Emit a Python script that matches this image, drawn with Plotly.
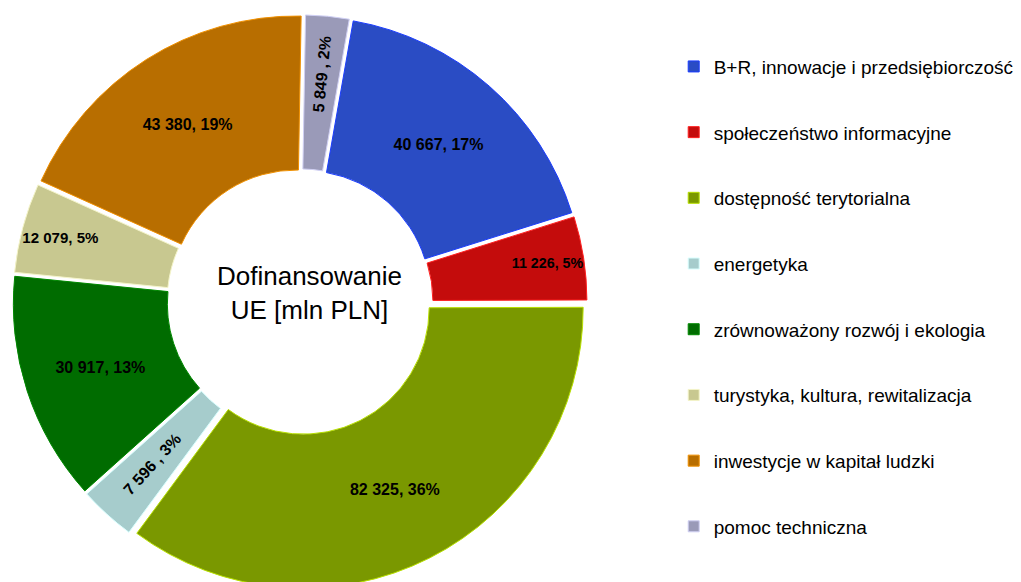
import plotly.graph_objects as go

categories = [
    "B+R, innowacje i przedsiębiorczość",
    "społeczeństwo informacyjne",
    "dostępność terytorialna",
    "energetyka",
    "zrównoważony rozwój i ekologia",
    "turystyka, kultura, rewitalizacja",
    "inwestycje w kapitał ludzki",
    "pomoc techniczna",
]
values = [40667, 11226, 82325, 7596, 30917, 12079, 43380, 5849]
percent_labels = ["17%", "5%", "36%", "3%", "13%", "5%", "19%", "2%"]
value_labels = ["40 667", "11 226", "82 325", "7 596 ", "30 917", "12 079", "43 380", "5 849 "]
# label style group: "h" horizontal in ring, "r" radial, "w" horizontal, wide (narrow slice)
label_style = ["h", "w", "h", "r", "h", "w", "h", "r"]

colors = ["#2a4cc4", "#c40c0c", "#7a9800", "#a6cccc", "#006c00", "#c8c890", "#b86e00", "#9a9ab8"]
edge_colors = ["#1a3cff", "#ff2020", "#b8e000", "#d8ffff", "#008800", "#f4f4c8", "#f09000", "#d0d0f4"]

texts = [f"{v}, {p}" for v, p in zip(value_labels, percent_labels)]


def pick(style):
    return [(t if s == style else "") for t, s in zip(texts, label_style)]


common = dict(
    labels=categories,
    values=values,
    texttemplate="%{text}",
    textposition="inside",
    textfont=dict(family="Liberation Sans, Arial", size=16, color="black", weight="bold"),
    sort=False,
    direction="clockwise",
    rotation=10,
    pull=0.025,
    domain=dict(x=[5/1021, 579/1021], y=[0.0, 0.99]),
    showlegend=False,
)
clear = dict(colors=["rgba(0,0,0,0)"] * len(values), line=dict(width=0))

fig = go.Figure()
fig.add_trace(go.Pie(
    text=pick("h"), hole=0.45,
    insidetextorientation="horizontal",
    marker=dict(colors=colors, line=dict(color=edge_colors, width=1)),
    hoverinfo="label+value",
    **common,
))
fig.add_trace(go.Pie(
    text=pick("r"), hole=0.45,
    insidetextorientation="radial",
    marker=clear, hoverinfo="skip",
    **common,
))
fig.add_trace(go.Pie(
    text=pick("w"), hole=0.3,
    insidetextorientation="horizontal",
    marker=clear, hoverinfo="skip",
    **common,
))

for cat, col, ec in zip(categories, colors, edge_colors):
    fig.add_trace(go.Scatter(
        x=[None], y=[None], mode="markers", name=cat,
        legendgroup=cat,
        marker=dict(symbol="square", size=11, color=col, line=dict(color=ec, width=1)),
    ))

fig.add_annotation(
    x=301 / 1021, y=0.51, xref="paper", yref="paper",
    xanchor="center", yanchor="middle",
    text="Dofinansowanie<br>UE [mln PLN]", showarrow=False,
    font=dict(family="Liberation Sans, Arial", size=26, color="black"),
    align="center",
)

fig.update_layout(
    width=1021, height=582,
    margin=dict(l=0, r=0, t=0, b=0),
    paper_bgcolor="white", plot_bgcolor="white",
    xaxis=dict(visible=False), yaxis=dict(visible=False),
    legend=dict(
        x=0.652, y=0.932, xanchor="left", yanchor="top",
        font=dict(family="Liberation Sans, Arial", size=19, color="black"),
        tracegroupgap=38, itemclick=False,
    ),
)

fig.write_html("out.html")
